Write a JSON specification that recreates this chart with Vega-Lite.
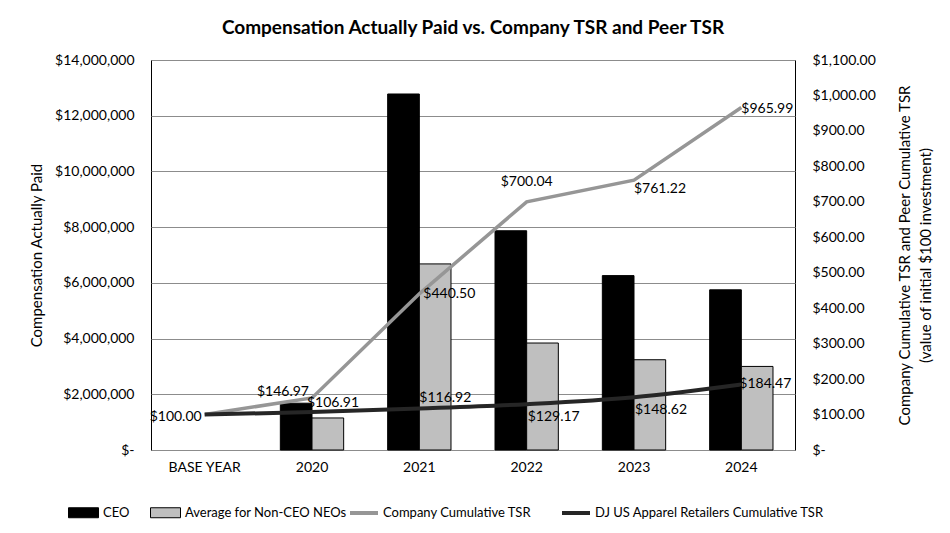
{
  "$schema": "https://vega.github.io/schema/vega-lite/v6.json",
  "width": 644,
  "height": 390,
  "padding": {"left": 29, "top": 19, "right": 12, "bottom": 10},
  "background": "white",
  "title": {"text": "Compensation Actually Paid vs. Company TSR and Peer TSR", "fontSize": 19, "fontWeight": "bold", "font": "Lato", "anchor": "middle", "offset": 15, "color": "#000"},
  "config": {
    "font": "Lato",
    "view": {"stroke": "black", "strokeWidth": 1},
    "axis": {"labelFontSize": 14, "titleFontSize": 15, "labelColor": "#000", "titleColor": "#000", "titleFontWeight": "normal", "ticks": false, "domain": false, "labelFont": "Lato", "titleFont": "Lato"},
    "legend": {"labelFont": "Lato", "labelFontSize": 13, "labelColor": "#000", "labelLimit": 0}
  },
  "datasets": {
    "comp": [
      {"year": "2020", "series": "CEO", "value": 1680000},
      {"year": "2020", "series": "Average for Non-CEO NEOs", "value": 1150000},
      {"year": "2021", "series": "CEO", "value": 12780000},
      {"year": "2021", "series": "Average for Non-CEO NEOs", "value": 6680000},
      {"year": "2022", "series": "CEO", "value": 7870000},
      {"year": "2022", "series": "Average for Non-CEO NEOs", "value": 3840000},
      {"year": "2023", "series": "CEO", "value": 6260000},
      {"year": "2023", "series": "Average for Non-CEO NEOs", "value": 3240000},
      {"year": "2024", "series": "CEO", "value": 5750000},
      {"year": "2024", "series": "Average for Non-CEO NEOs", "value": 3000000}
    ],
    "tsr": [
      {"year": "BASE YEAR", "series": "Company Cumulative TSR", "tsr": 100.00},
      {"year": "2020", "series": "Company Cumulative TSR", "tsr": 146.97},
      {"year": "2021", "series": "Company Cumulative TSR", "tsr": 440.50},
      {"year": "2022", "series": "Company Cumulative TSR", "tsr": 700.04},
      {"year": "2023", "series": "Company Cumulative TSR", "tsr": 761.22},
      {"year": "2024", "series": "Company Cumulative TSR", "tsr": 965.99},
      {"year": "BASE YEAR", "series": "DJ US Apparel Retailers Cumulative TSR", "tsr": 100.00},
      {"year": "2020", "series": "DJ US Apparel Retailers Cumulative TSR", "tsr": 106.91},
      {"year": "2021", "series": "DJ US Apparel Retailers Cumulative TSR", "tsr": 116.92},
      {"year": "2022", "series": "DJ US Apparel Retailers Cumulative TSR", "tsr": 129.17},
      {"year": "2023", "series": "DJ US Apparel Retailers Cumulative TSR", "tsr": 148.62},
      {"year": "2024", "series": "DJ US Apparel Retailers Cumulative TSR", "tsr": 184.47}
    ]
  },
  "layer": [
    {
      "data": {"name": "comp"},
      "mark": {"type": "bar", "stroke": "black", "strokeWidth": 1},
      "encoding": {
        "x": {"field": "year", "type": "nominal", "scale": {"domain": ["BASE YEAR", "2020", "2021", "2022", "2023", "2024"], "paddingInner": 0.41, "paddingOuter": 0.205}, "axis": {"title": null, "labelAngle": 0, "labelPadding": 10, "grid": false}},
        "xOffset": {"field": "series", "type": "nominal", "scale": {"domain": ["CEO", "Average for Non-CEO NEOs"]}},
        "y": {"field": "value", "type": "quantitative", "scale": {"domain": [0, 14000000], "nice": false}, "axis": {"title": "Compensation Actually Paid", "values": [0, 2000000, 4000000, 6000000, 8000000, 10000000, 12000000, 14000000], "labelExpr": "datum.value == 0 ? '$-' : format(datum.value, '$,.0f')", "grid": true, "gridColor": "#8c8c8c", "gridWidth": 1, "labelPadding": 17, "titlePadding": 10}},
        "fill": {"field": "series", "type": "nominal", "scale": {"domain": ["CEO", "Average for Non-CEO NEOs"], "range": ["#000000", "#bfbfbf"]}, "legend": {"orient": "none", "legendX": -83, "legendY": 437, "direction": "horizontal", "title": null, "symbolType": "M-1,-0.333L1,-0.333L1,0.333L-1,0.333Z", "symbolSize": 900, "symbolStrokeColor": "black", "symbolStrokeWidth": 1, "columnPadding": 18, "labelOffset": 4}}
      }
    },
    {
      "data": {"name": "tsr"},
      "encoding": {
        "x": {"field": "year", "type": "nominal"},
        "y": {"field": "tsr", "type": "quantitative", "scale": {"domain": [0, 1100], "nice": false}, "axis": {"orient": "right", "title": ["Company Cumulative TSR and Peer Cumulative TSR", "(value of initial $100 investment)"], "titleAngle": 270, "titleLineHeight": 21, "values": [0, 100, 200, 300, 400, 500, 600, 700, 800, 900, 1000, 1100], "labelExpr": "datum.value == 0 ? '$-' : format(datum.value, '$,.2f')", "grid": false, "labelPadding": 17, "titlePadding": 16}}
      },
      "layer": [
        {
          "transform": [{"filter": "datum.series == 'Company Cumulative TSR'"}],
          "mark": {"type": "line", "strokeWidth": 3.5},
          "encoding": {"stroke": {"field": "series", "type": "nominal", "scale": {"domain": ["Company Cumulative TSR", "DJ US Apparel Retailers Cumulative TSR"], "range": ["#969696", "#262626"]}, "legend": {"orient": "none", "legendX": 197, "legendY": 437, "direction": "horizontal", "title": null, "symbolType": "stroke", "symbolSize": 784, "symbolStrokeWidth": 4, "columnPadding": 22, "labelOffset": 3}}}
        },
        {
          "transform": [{"filter": "datum.series == 'DJ US Apparel Retailers Cumulative TSR'"}],
          "mark": {"type": "line", "strokeWidth": 4, "interpolate": "monotone"},
          "encoding": {"stroke": {"field": "series", "type": "nominal"}}
        },
        {
          "transform": [{"filter": "datum.series == 'Company Cumulative TSR' && datum.year == 'BASE YEAR'"}],
          "mark": {"type": "text", "align": "right", "baseline": "middle", "dx": -3, "dy": 2, "fontSize": 14, "color": "#000"},
          "encoding": {"text": {"field": "tsr", "type": "quantitative", "format": "$,.2f"}}
        },
        {
          "transform": [{"filter": "datum.series == 'Company Cumulative TSR' && datum.year == '2020'"}],
          "mark": {"type": "text", "align": "right", "baseline": "middle", "dx": -3, "dy": -6, "fontSize": 14, "color": "#000"},
          "encoding": {"text": {"field": "tsr", "type": "quantitative", "format": "$,.2f"}}
        },
        {
          "transform": [{"filter": "datum.series == 'Company Cumulative TSR' && datum.year == '2021'"}],
          "mark": {"type": "text", "align": "left", "baseline": "middle", "dx": 4, "dy": 0, "fontSize": 14, "color": "#000"},
          "encoding": {"text": {"field": "tsr", "type": "quantitative", "format": "$,.2f"}}
        },
        {
          "transform": [{"filter": "datum.series == 'Company Cumulative TSR' && datum.year == '2022'"}],
          "mark": {"type": "text", "align": "center", "baseline": "middle", "dx": 0, "dy": -20, "fontSize": 14, "color": "#000"},
          "encoding": {"text": {"field": "tsr", "type": "quantitative", "format": "$,.2f"}}
        },
        {
          "transform": [{"filter": "datum.series == 'Company Cumulative TSR' && datum.year == '2023'"}],
          "mark": {"type": "text", "align": "left", "baseline": "middle", "dx": 0, "dy": 9, "fontSize": 14, "color": "#000"},
          "encoding": {"text": {"field": "tsr", "type": "quantitative", "format": "$,.2f"}}
        },
        {
          "transform": [{"filter": "datum.series == 'Company Cumulative TSR' && datum.year == '2024'"}],
          "mark": {"type": "text", "align": "left", "baseline": "middle", "dx": 0, "dy": 1, "fontSize": 14, "color": "#000"},
          "encoding": {"text": {"field": "tsr", "type": "quantitative", "format": "$,.2f"}}
        },
        {
          "transform": [{"filter": "datum.series == 'DJ US Apparel Retailers Cumulative TSR' && datum.year == '2020'"}],
          "mark": {"type": "text", "align": "left", "baseline": "middle", "dx": -5, "dy": -9, "fontSize": 14, "color": "#000"},
          "encoding": {"text": {"field": "tsr", "type": "quantitative", "format": "$,.2f"}}
        },
        {
          "transform": [{"filter": "datum.series == 'DJ US Apparel Retailers Cumulative TSR' && datum.year == '2021'"}],
          "mark": {"type": "text", "align": "left", "baseline": "middle", "dx": 0, "dy": -11, "fontSize": 14, "color": "#000"},
          "encoding": {"text": {"field": "tsr", "type": "quantitative", "format": "$,.2f"}}
        },
        {
          "transform": [{"filter": "datum.series == 'DJ US Apparel Retailers Cumulative TSR' && (datum.year == '2022' || datum.year == '2023')"}],
          "mark": {"type": "text", "align": "left", "baseline": "middle", "dx": 1, "dy": 13, "fontSize": 14, "color": "#000"},
          "encoding": {"text": {"field": "tsr", "type": "quantitative", "format": "$,.2f"}}
        },
        {
          "transform": [{"filter": "datum.series == 'DJ US Apparel Retailers Cumulative TSR' && datum.year == '2024'"}],
          "mark": {"type": "text", "align": "left", "baseline": "middle", "dx": -2, "dy": -1, "fontSize": 14, "color": "#000"},
          "encoding": {"text": {"field": "tsr", "type": "quantitative", "format": "$,.2f"}}
        }
      ]
    }
  ],
  "resolve": {"scale": {"y": "independent"}}
}
